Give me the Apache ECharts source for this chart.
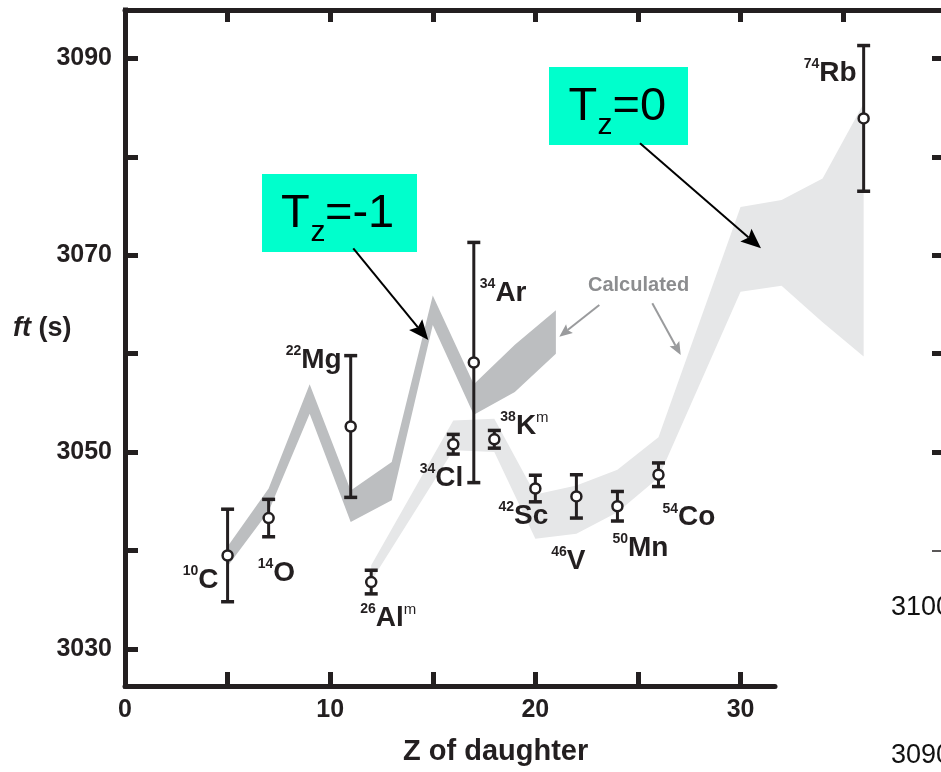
<!DOCTYPE html>
<html>
<head>
<meta charset="utf-8">
<script src="https://cdn.jsdelivr.net/npm/echarts@6/dist/echarts.min.js"></script>
<style>
  html, body { margin: 0; padding: 0; background: #fff; }
  #chart { width: 941px; height: 772px; }
</style>
</head>
<body>
<div id="chart"></div>
<script>
// Superallowed 0+ -> 0+ beta decays: measured ft values vs. Z of the daughter nucleus

// measured transitions
const parentMass = ['10', '14', '22', '26', '34', '34', '38', '42', '46', '50', '54', '74'];
const parentElem = ['C', 'O', 'Mg', 'Al', 'Cl', 'Ar', 'K', 'Sc', 'V', 'Mn', 'Co', 'Rb'];
const isomerTag  = ['', '', '', 'm', '', '', 'm', '', '', '', '', ''];
const daughterZ  = [5, 7, 11, 12, 16, 17, 18, 20, 22, 24, 26, 36];
const ftValue    = [3039.5, 3043.3, 3052.6, 3036.8, 3050.8, 3059.1, 3051.3, 3046.3, 3045.5, 3044.5, 3047.7, 3083.9];
const ftError    = [4.7, 1.9, 7.2, 1.2, 1.0, 12.2, 0.9, 1.35, 2.2, 1.5, 1.2, 7.4];

// calculated bands, Tz = -1 parents
const tzMinus1Z     = [5, 7, 9, 11, 13, 15, 17, 19, 21];
const tzMinus1Upper = [3040.4, 3046.3, 3056.9, 3046.1, 3049.0, 3065.9, 3056.9, 3060.9, 3064.4];
const tzMinus1Lower = [3038.4, 3044.0, 3053.9, 3042.9, 3045.1, 3062.9, 3053.8, 3056.1, 3060.0];

// calculated bands, Tz = 0 parents
const tz0Z     = [12, 16, 18, 20, 22, 24, 26, 30, 32, 34, 36];
const tz0Upper = [3038.5, 3053.2, 3053.4, 3045.7, 3046.6, 3048.2, 3051.5, 3074.9, 3075.6, 3077.8, 3085.4];
const tz0Lower = [3036.9, 3050.2, 3050.0, 3041.2, 3041.7, 3043.9, 3047.4, 3066.3, 3066.9, 3063.2, 3059.7];

// axis ticks and labels
const yTickValues   = [3030, 3040, 3050, 3060, 3070, 3080, 3090];
const yLabelValues  = [3030, 3050, 3070, 3090];
const xTopTicks     = [5, 10, 15, 20, 25, 30, 35];
const xBottomTicks  = [5, 10, 15, 20, 25, 30];
const xLabelValues  = [0, 10, 20, 30];
const sideTicks     = [3050, 3060, 3070, 3080, 3090];
const sideThinTicks = [3040];

// label placement for each transition: [align, dx, dy]
const labelPlacement = [
  ['right', -9, 9],
  ['left', -11, 39],
  ['right', -9, -82],
  ['left', -11, 20],
  ['right', 10, 18],
  ['left', 6, -85],
  ['left', 6, -29],
  ['right', 13, 12],
  ['right', 9, 49],
  ['left', -5, 26],
  ['left', 4, 27],
  ['right', -7, -61]
];

const INK = '#231f20';
const FONT = '"Liberation Sans", Arial, Helvetica, sans-serif';
const Y_MIN = 3026.24, Y_MAX = 3094.91;
const plainNumber = v => String(v);

function bandRenderer(zs, lo, hi, fill) {
  return function (params, api) {
    if (params.dataIndex !== 0) return null;
    const pts = [];
    for (let i = 0; i < zs.length; i++) pts.push(api.coord([zs[i], hi[i]]));
    for (let i = zs.length - 1; i >= 0; i--) pts.push(api.coord([zs[i], lo[i]]));
    return { type: 'polygon', shape: { points: pts }, style: { fill: fill }, silent: true };
  };
}

function errorBar(params, api) {
  const z = api.value(0), v = api.value(1), e = api.value(2);
  const top = api.coord([z, v + e]);
  const bot = api.coord([z, v - e]);
  const half = 6.5;
  const s = { stroke: INK, lineWidth: 3 };
  const c = { stroke: INK, lineWidth: 3.5 };
  return {
    type: 'group',
    children: [
      { type: 'line', shape: { x1: top[0], y1: top[1], x2: bot[0], y2: bot[1] }, style: s },
      { type: 'line', shape: { x1: top[0] - half, y1: top[1], x2: top[0] + half, y2: top[1] }, style: c },
      { type: 'line', shape: { x1: bot[0] - half, y1: bot[1], x2: bot[0] + half, y2: bot[1] }, style: c }
    ]
  };
}

// straight arrow with a filled, slightly notched head
function arrow(x1, y1, x2, y2, color, width, headLen, headHalf) {
  const dx = x2 - x1, dy = y2 - y1;
  const len = Math.sqrt(dx * dx + dy * dy);
  const ux = dx / len, uy = dy / len;
  const nx = -uy, ny = ux;
  const bx = x2 - ux * headLen, by = y2 - uy * headLen;
  const mx = x2 - ux * headLen * 0.82, my = y2 - uy * headLen * 0.82;
  return [
    { type: 'line', silent: true, z: 20, shape: { x1: x1, y1: y1, x2: mx, y2: my },
      style: { stroke: color, lineWidth: width } },
    { type: 'polygon', silent: true, z: 20,
      shape: { points: [[x2, y2], [bx + nx * headHalf, by + ny * headHalf], [mx, my], [bx - nx * headHalf, by - ny * headHalf]] },
      style: { fill: color } }
  ];
}

function tzBox(x, y, w, h, tX, zX, restX, baseY, rest) {
  const big = 47, small = 30;
  return [
    { type: 'rect', silent: true, z: 20, shape: { x: x, y: y, width: w, height: h }, style: { fill: '#00ffcc' } },
    { type: 'text', silent: true, z: 21, x: tX, y: baseY - 0.3465 * big,
      style: { text: 'T', font: 'normal ' + big + 'px ' + FONT, fill: '#000', align: 'left', verticalAlign: 'middle' } },
    { type: 'text', silent: true, z: 21, x: zX, y: baseY + 13 - 0.3465 * small,
      style: { text: 'z', font: 'normal ' + small + 'px ' + FONT, fill: '#000', align: 'left', verticalAlign: 'middle' } },
    { type: 'text', silent: true, z: 21, x: restX, y: baseY - 0.3465 * big,
      style: { text: rest, font: 'normal ' + big + 'px ' + FONT, fill: '#000', align: 'left', verticalAlign: 'middle' } }
  ];
}

const chart = echarts.init(document.getElementById('chart'), null, { renderer: 'canvas' });

const axisLineStyle = { color: INK, width: 5 };

const option = {
  animation: false,
  backgroundColor: '#ffffff',
  grid: [
    { left: 125, top: 10, right: 0, bottom: 86 },
    { left: 125, top: 10, width: 650, bottom: 86 }
  ],
  xAxis: [
    {
      gridIndex: 0, type: 'value', min: 0, max: 39.77, position: 'top',
      axisLine: { show: true, lineStyle: axisLineStyle },
      axisTick: { show: true, inside: true, length: 12, lineStyle: { color: INK, width: 5 }, customValues: xTopTicks },
      axisLabel: { show: false },
      splitLine: { show: false }
    },
    {
      gridIndex: 1, type: 'value', min: 0, max: 31.68, position: 'bottom',
      axisLine: { show: true, lineStyle: axisLineStyle },
      axisTick: { show: true, inside: true, length: 14, lineStyle: { color: INK, width: 5 }, customValues: xBottomTicks },
      axisLabel: { show: true, customValues: xLabelValues, formatter: plainNumber, fontSize: 25, fontWeight: 'bold', fontFamily: FONT, color: INK, margin: 12 },
      splitLine: { show: false }
    }
  ],
  yAxis: [
    {
      gridIndex: 0, type: 'value', min: Y_MIN, max: Y_MAX, position: 'left',
      axisLine: { show: true, lineStyle: { color: INK, width: 5, cap: 'square' } },
      axisTick: { show: true, inside: true, length: 13, lineStyle: { color: INK, width: 5 }, customValues: yTickValues },
      axisLabel: { show: true, customValues: yLabelValues, formatter: plainNumber, fontSize: 25, fontWeight: 'bold', fontFamily: FONT, color: INK, margin: 13 },
      splitLine: { show: false }
    },
    {
      gridIndex: 0, type: 'value', min: Y_MIN, max: Y_MAX, position: 'right',
      axisLine: { show: false },
      axisTick: { show: true, inside: true, length: 9, lineStyle: { color: INK, width: 5 }, customValues: sideTicks },
      axisLabel: { show: false },
      splitLine: { show: false }
    },
    {
      gridIndex: 0, type: 'value', min: Y_MIN, max: Y_MAX, position: 'right',
      axisLine: { show: false },
      axisTick: { show: true, inside: true, length: 9, lineStyle: { color: INK, width: 1.5 }, customValues: sideThinTicks },
      axisLabel: { show: false },
      splitLine: { show: false }
    },
    {
      gridIndex: 1, type: 'value', min: Y_MIN, max: Y_MAX, show: false
    }
  ],
  series: [
    {
      name: 'Calculated Tz=0', type: 'custom', xAxisIndex: 0, yAxisIndex: 0, z: 1, silent: true,
      renderItem: bandRenderer(tz0Z, tz0Lower, tz0Upper, '#e6e7e8'),
      data: tz0Z.map((z, i) => [z, tz0Lower[i], tz0Upper[i]])
    },
    {
      name: 'Calculated Tz=-1', type: 'custom', xAxisIndex: 0, yAxisIndex: 0, z: 2, silent: true,
      renderItem: bandRenderer(tzMinus1Z, tzMinus1Lower, tzMinus1Upper, '#bcbec0'),
      data: tzMinus1Z.map((z, i) => [z, tzMinus1Lower[i], tzMinus1Upper[i]])
    },
    {
      name: 'Uncertainty', type: 'custom', xAxisIndex: 0, yAxisIndex: 0, z: 3, silent: true,
      renderItem: errorBar,
      encode: { x: 0, y: 1 },
      data: daughterZ.map((z, i) => [z, ftValue[i], ftError[i]])
    },
    {
      name: 'Measured ft', type: 'scatter', xAxisIndex: 0, yAxisIndex: 0, z: 4, silent: true,
      symbol: 'circle', symbolSize: 10,
      itemStyle: { color: '#ffffff', borderColor: INK, borderWidth: 2.5, opacity: 1 },
      label: {
        show: true, position: 'inside', verticalAlign: 'top', color: INK,
        textBorderWidth: 0,
        formatter: p => '{sup|' + parentMass[p.dataIndex] + '}{el|' + parentElem[p.dataIndex] + '}' +
          (isomerTag[p.dataIndex] ? '{iso|' + isomerTag[p.dataIndex] + '}' : ''),
        rich: {
          sup: { fontSize: 14, fontWeight: 'bold', fontFamily: FONT, color: INK, lineHeight: 16, verticalAlign: 'top' },
          el:  { fontSize: 28, fontWeight: 'bold', fontFamily: FONT, color: INK, lineHeight: 30, verticalAlign: 'bottom' },
          iso: { fontSize: 15, fontWeight: 'normal', fontFamily: FONT, color: INK, lineHeight: 16, verticalAlign: 'top' }
        }
      },
      data: daughterZ.map((z, i) => ({
        value: [z, ftValue[i]],
        label: { align: labelPlacement[i][0], offset: [labelPlacement[i][1], labelPlacement[i][2]] }
      }))
    }
  ],
  graphic: [].concat(
    tzBox(262, 174, 155, 78, 281, 310.5, 325, 230, '=-1'),
    tzBox(549, 67, 139, 78, 568.5, 597.5, 612.5, 123.3, '=0'),
    arrow(353.3, 248.3, 428.3, 340, '#000', 2, 20, 8.5),
    arrow(640, 143.3, 761, 248.3, '#000', 2, 20, 8.5),
    arrow(599.3, 305, 559.3, 336.7, '#9a9b9d', 2, 13, 5.5),
    arrow(652.3, 303.3, 680.7, 355, '#9a9b9d', 2, 13, 5.5),
    [
      { type: 'text', silent: true, z: 20, x: 588, y: 285,
        style: { text: 'Calculated', font: 'bold 20px ' + FONT, fill: '#8c8d8f', align: 'left', verticalAlign: 'middle' } },
      { type: 'text', silent: true, z: 20, x: 13, y: 329,
        style: {
          text: '{i|ft}{n| (s)}', align: 'left', verticalAlign: 'middle',
          rich: {
            i: { fontSize: 27, fontWeight: 'bold', fontStyle: 'italic', fontFamily: FONT, fill: INK },
            n: { fontSize: 27, fontWeight: 'bold', fontFamily: FONT, fill: INK }
          }
        } },
      { type: 'text', silent: true, z: 20, x: 403, y: 752,
        style: { text: 'Z of daughter', font: 'bold 29px ' + FONT, fill: INK, align: 'left', verticalAlign: 'middle' } },
      { type: 'text', silent: true, z: 20, x: 891, y: 608,
        style: { text: '3100', font: 'normal 27px ' + FONT, fill: '#111', align: 'left', verticalAlign: 'middle' } },
      { type: 'text', silent: true, z: 20, x: 891, y: 756,
        style: { text: '3090', font: 'normal 27px ' + FONT, fill: '#111', align: 'left', verticalAlign: 'middle' } }
    ]
  )
};

chart.setOption(option);
</script>
</body>
</html>
